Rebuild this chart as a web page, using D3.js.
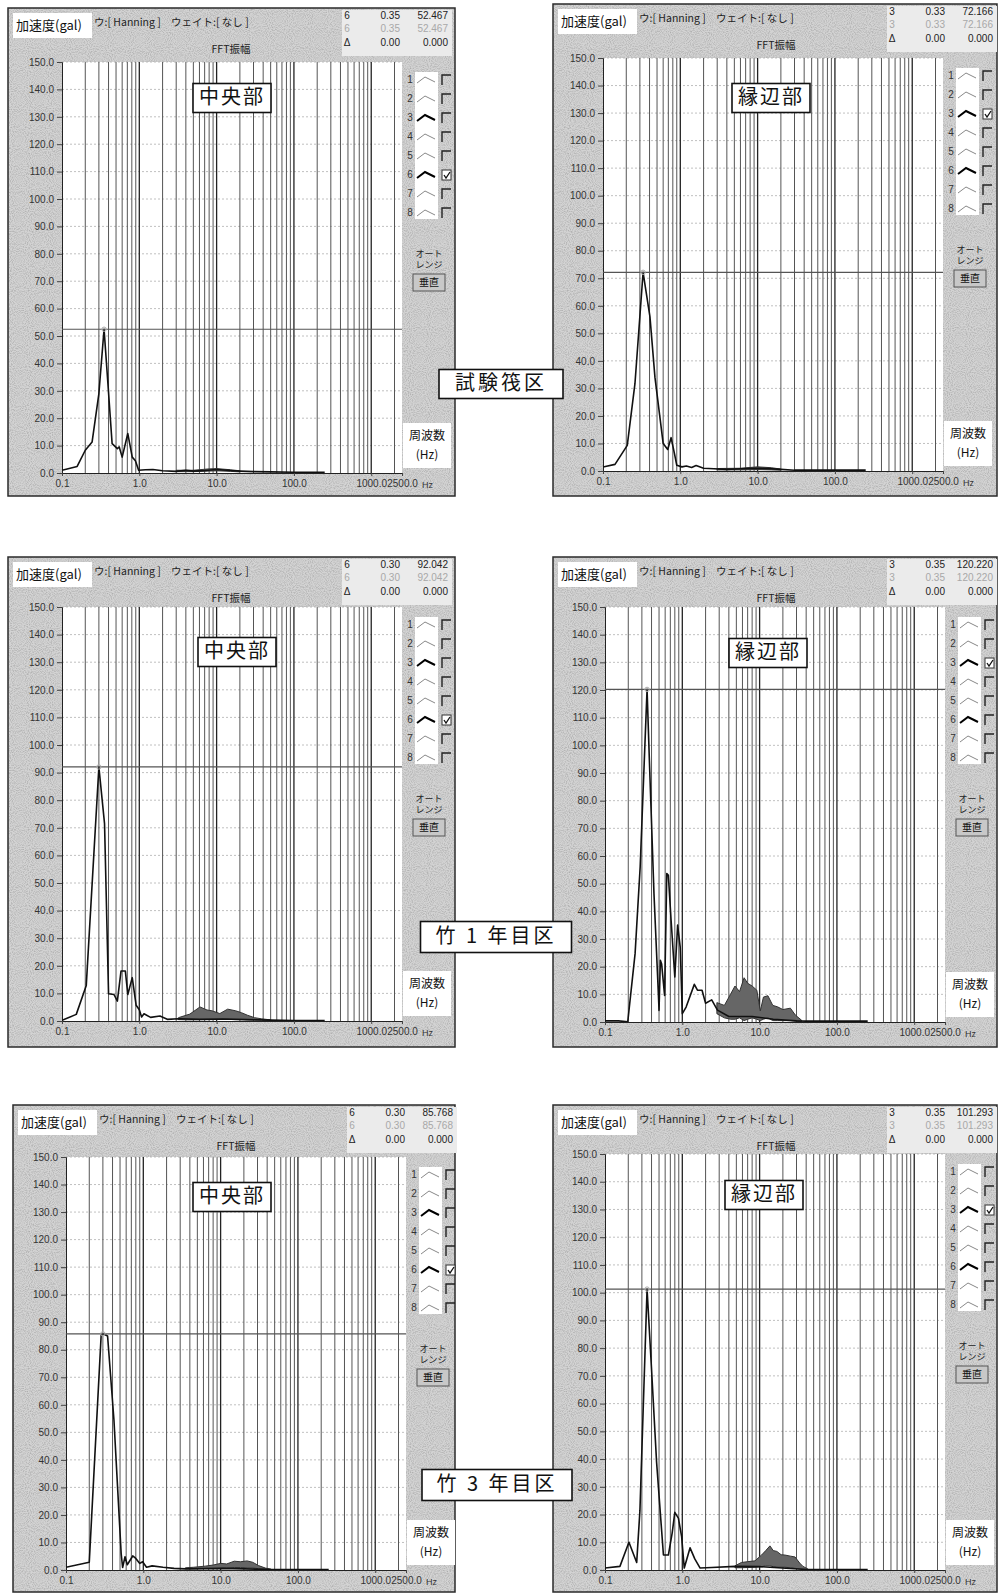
<!DOCTYPE html>
<html>
<head>
<meta charset="utf-8">
<script src="https://cdn.jsdelivr.net/npm/d3@7"></script>
<style>
  body { margin: 0; background: #fff; }
  svg { display: block; }
</style>
</head>
<body>
<svg id="chart" width="998" height="1594"></svg>
<script>
// ---- axis ticks and labels ----
const freqTickValues = [0.1, 1, 10, 100, 1000, 2500];
const freqTickLabels = ["0.1", "1.0", "10.0", "100.0", "1000.0", "2500.0"];
const ampTickValues = [0, 10, 20, 30, 40, 50, 60, 70, 80, 90, 100, 110, 120, 130, 140, 150];
const legendChannels = [1, 2, 3, 4, 5, 6, 7, 8];

// ---- panel text ----
const panelTitles = ["中央部", "縁辺部", "中央部", "縁辺部", "中央部", "縁辺部"];
const sectionNames = ["試験筏区", "竹 1 年目区", "竹 3 年目区"];
const cursorChannel = [6, 3, 6, 3, 6, 3];
const peakFreq = [0.35, 0.33, 0.30, 0.35, 0.30, 0.35];
const peakAmp = [52.467, 72.166, 92.042, 120.220, 85.768, 101.293];

// ---- FFT amplitude spectra [Hz, gal] ----
const specRaftCenter = [[0.1,1.0],[0.157,2.4],[0.2,8.3],[0.245,11.3],[0.3,29],[0.35,52.467],[0.39,33.8],[0.445,10.7],[0.52,8.9],[0.55,9.5],[0.6,5.8],[0.71,14.4],[0.81,5.8],[0.89,4.5],[0.98,1.0],[1.2,1.2],[1.5,1.3],[2,0.8],[3,0.6],[4,1.0],[5,0.7],[7,0.9],[10,1.3],[15,0.9],[20,0.7],[30,0.5],[50,0.4],[100,0.3],[250,0.3]];
const specRaftEdge = [[0.1,1.45],[0.143,2.4],[0.206,9.3],[0.259,31.7],[0.33,72.166],[0.405,56],[0.47,34],[0.6,10],[0.687,7.8],[0.76,12.1],[0.84,6.3],[0.9,2.1],[1.05,1.5],[1.2,1.8],[1.4,1.3],[1.6,2.0],[2.0,1.0],[2.7,0.8],[4,0.6],[6,0.8],[10,1.0],[15,0.8],[20,0.6],[30,0.3],[50,0.3],[250,0.3]];
const specYear1Center = [[0.1,0.25],[0.153,2.4],[0.206,12.9],[0.30,92.042],[0.355,71.5],[0.4,9.9],[0.47,9.6],[0.52,7.2],[0.58,18.1],[0.66,18.1],[0.71,9.6],[0.81,15.7],[0.91,5.7],[1.0,4.1],[1.07,1.45],[1.15,2.6],[1.4,1.3],[1.85,1.8],[2.3,0.6],[3.2,0.8],[6,0.6],[12,0.7],[25,0.5],[50,0.3],[100,0.2],[250,0.2]];
const specYear1Edge = [[0.1,0.4],[0.149,0.4],[0.197,0.1],[0.245,24.7],[0.285,56],[0.35,120.22],[0.375,94.6],[0.43,46.4],[0.49,10.3],[0.5,4.2],[0.52,22.3],[0.54,21],[0.59,9.6],[0.63,53.7],[0.66,53],[0.716,36.8],[0.8,16.3],[0.87,35],[0.94,27],[1.0,3],[1.12,5.4],[1.43,13.6],[1.57,11.5],[1.8,11.5],[2.0,6.8],[2.4,8.0],[2.85,4.3],[4,2],[8,2],[15,1],[30,0.4],[40,0.3],[250,0.3]];
const specYear3Center = [[0.1,1.0],[0.2,2.8],[0.285,85.3],[0.30,85.768],[0.345,85.0],[0.417,54.5],[0.517,6],[0.54,0.9],[0.58,4.8],[0.62,1.9],[0.73,5.1],[0.8,4.2],[0.9,2.4],[0.98,3.0],[1.1,1.0],[1.3,1.5],[1.8,1.0],[2.5,0.6],[3.5,0.4],[10,0.6],[45,0.2],[100,0.2],[250,0.2]];
const specYear3Edge = [[0.1,0.7],[0.156,1.3],[0.204,10],[0.257,2.7],[0.283,21.4],[0.35,101.293],[0.4,72.3],[0.465,38.8],[0.57,5.4],[0.66,5.4],[0.74,13.4],[0.8,20.8],[0.89,18.7],[0.98,12],[1.06,0.7],[1.26,8],[1.45,4],[1.7,0.7],[2.4,0.9],[4.8,1.3],[10,1.2],[40,0.2],[100,0.2],[250,0.2]];

// ---- dense high-frequency scatter, as [Hz, low, high] envelopes ----
const bandRaftCenter = [[3,0.5,1.0],[5,0.5,1.0],[8,0.7,1.5],[10,0.8,1.6],[15,0.6,1.2],[20,0.4,0.8]];
const bandRaftEdge = [[3,0.4,0.9],[6,0.4,1.0],[10,0.5,1.5],[15,0.4,1.2],[20,0.3,0.7]];
const bandYear1Center = [[3.2,0.5,1.2],[4.5,0.4,2.5],[6.1,0.5,5.1],[7.5,0.5,4],[8.7,0.5,3.7],[11,0.6,2.7],[13.9,0.6,4.3],[17.6,0.5,3.7],[21,0.5,3],[25,0.4,2.1],[31,0.3,1.2],[38,0.3,0.8],[50,0.2,0.4]];
const bandYear1Edge = [[2.8,3,7],[3.5,1.5,6],[4.2,1,10],[4.8,1,13],[5.5,1.5,11],[6.3,0.5,16],[7,1,14],[8,1.5,13],[9.2,1,11.5],[10.2,0.5,4],[11.2,1,9],[12.8,1.5,9.5],[14.8,0.5,6],[17,0.5,5.5],[20,0.5,4.5],[25,0.5,5],[29,0.3,2.5],[35,0.2,0.6]];
const bandYear3Center = [[3.5,0.4,0.8],[4.5,0.4,1.0],[6.3,0.5,1.4],[8,0.5,1.8],[10,0.6,2.4],[12,0.8,2.2],[15,0.9,3.2],[18,0.9,3.0],[22,0.8,3.3],[26,0.7,2.8],[31,0.5,1.6],[38,0.3,0.7],[45,0.2,0.3]];
const bandYear3Edge = [[4.8,0.8,1.5],[5.8,0.8,2.7],[7,0.9,3],[8.7,1,3.3],[10.6,1.2,5.4],[12,1.5,7],[13.6,1.5,8.7],[15,1.2,7],[16.7,1,6.7],[19,1,5.5],[21.2,1,5.4],[25,0.8,5],[28.7,0.6,4.7],[33,0.4,2.5],[36.4,0.3,1.3],[42,0.2,0.4]];

const spectra = [specRaftCenter, specRaftEdge, specYear1Center, specYear1Edge, specYear3Center, specYear3Edge];
const bands = [bandRaftCenter, bandRaftEdge, bandYear1Center, bandYear1Edge, bandYear3Center, bandYear3Edge];

// ---- layout (pixels) ----
const PLOT_W = 340;
const layout = [
  { bx: 8,   by: 8,    bw: 447, bh: 488, L: 62,  T: 62,   B: 473,  tx: 232, ty: 98 },
  { bx: 553, by: 4,    bw: 444, bh: 492, L: 603, T: 58,   B: 471,  tx: 771, ty: 98 },
  { bx: 8,   by: 557,  bw: 447, bh: 490, L: 62,  T: 607,  B: 1021, tx: 237, ty: 652 },
  { bx: 553, by: 557,  bw: 444, bh: 490, L: 605, T: 607,  B: 1022, tx: 768, ty: 653 },
  { bx: 13,  by: 1105, bw: 442, bh: 487, L: 66,  T: 1157, B: 1570, tx: 232, ty: 1197 },
  { bx: 553, by: 1105, bw: 444, bh: 487, L: 605, T: 1154, B: 1570, tx: 764, ty: 1195 }
];
const sectionBoxes = [
  { cx: 501, cy: 384, w: 124, h: 29 },
  { cx: 496, cy: 937, w: 151, h: 31 },
  { cx: 497, cy: 1485, w: 150, h: 31 }
];

const JP = "'Noto Sans CJK JP', 'Noto Sans', sans-serif";
const NUM = "'Liberation Sans', Arial, sans-serif";

const svg = d3.select("#chart");
const defs = svg.append("defs");

// fine grain for the grey window background
const grain = defs.append("filter").attr("id", "grain")
  .attr("x", 0).attr("y", 0).attr("width", 1).attr("height", 1);
grain.append("feTurbulence").attr("type", "fractalNoise")
  .attr("baseFrequency", 0.95).attr("numOctaves", 1).attr("seed", 7);
grain.append("feColorMatrix").attr("type", "matrix")
  .attr("values", "0 0 0 0 0.4  0 0 0 0 0.4  0 0 0 0 0.4  2.2 0 0 0 -0.9");

// minor + major log grid frequencies
const gridFreqs = [];
[0.1, 1, 10, 100, 1000].forEach(d => {
  for (let m = 1; m <= 9; m++) { const f = d * m; if (f <= 2500) gridFreqs.push(f); }
});

layout.forEach((p, i) => {
  const g = svg.append("g");
  const x = d3.scaleLog().domain([0.1, 2500]).range([p.L, p.L + PLOT_W]);
  const y = d3.scaleLinear().domain([0, 150]).range([p.B, p.T]);

  // window frame
  g.append("rect").attr("x", p.bx).attr("y", p.by).attr("width", p.bw).attr("height", p.bh)
    .attr("fill", "#d3d3d3");
  g.append("rect").attr("x", p.bx).attr("y", p.by).attr("width", p.bw).attr("height", p.bh)
    .attr("fill", "#fff").attr("filter", "url(#grain)");
  g.append("rect").attr("x", p.bx).attr("y", p.by).attr("width", p.bw).attr("height", p.bh)
    .attr("fill", "none").attr("stroke", "#2a2a2a").attr("stroke-width", 1.5);

  // header: unit label
  g.append("rect").attr("x", p.bx + 5).attr("y", p.by + 5).attr("width", 79).attr("height", 25).attr("fill", "#fff");
  g.append("text").attr("x", p.bx + 8).attr("y", p.by + 18).attr("dominant-baseline", "middle")
    .attr("font-family", JP).attr("font-size", 13).attr("fill", "#111").text("加速度(gal)");
  g.append("text").attr("x", p.bx + 86).attr("y", p.by + 15).attr("dominant-baseline", "middle")
    .attr("font-family", JP).attr("font-size", 10.5).attr("fill", "#222").text("ウ:[ Hanning ]");
  g.append("text").attr("x", p.bx + 163).attr("y", p.by + 15).attr("dominant-baseline", "middle")
    .attr("font-family", JP).attr("font-size", 10.5).attr("fill", "#222").text("ウェイト:[ なし ]");
  g.append("text").attr("x", p.bx + 223).attr("y", p.by + 42).attr("dominant-baseline", "middle")
    .attr("text-anchor", "middle").attr("font-family", JP).attr("font-size", 10.5).attr("fill", "#222").text("FFT振幅");

  // cursor readout
  g.append("rect").attr("x", p.bx + 334).attr("y", p.by + 2).attr("width", 110).attr("height", 46).attr("fill", "#ebebeb");
  const rows = [
    [String(cursorChannel[i]), peakFreq[i].toFixed(2), peakAmp[i].toFixed(3), "#222"],
    [String(cursorChannel[i]), peakFreq[i].toFixed(2), peakAmp[i].toFixed(3), "#a8a8a8"],
    ["Δ", "0.00", "0.000", "#222"]
  ];
  rows.forEach((r, k) => {
    const cy = p.by + 8 + k * 13.5;
    const t = (tx, anchor, s) => g.append("text").attr("x", tx).attr("y", cy)
      .attr("dominant-baseline", "middle").attr("text-anchor", anchor)
      .attr("font-family", NUM).attr("font-size", 10).attr("fill", r[3]).text(s);
    t(p.bx + 339, "middle", r[0]);
    t(p.bx + 392, "end", r[1]);
    t(p.bx + 440, "end", r[2]);
  });

  // plot area
  g.append("rect").attr("x", p.L).attr("y", p.T).attr("width", PLOT_W).attr("height", p.B - p.T).attr("fill", "#fff");

  // horizontal dotted grid
  g.append("g").selectAll("line").data(ampTickValues.filter(v => v > 0)).join("line")
    .attr("x1", p.L).attr("x2", p.L + PLOT_W).attr("y1", d => y(d)).attr("y2", d => y(d))
    .attr("stroke", "#b0b0b0").attr("stroke-width", 0.8).attr("stroke-dasharray", "2,2");

  // vertical log grid
  const major = d => [1, 10, 100, 1000].includes(d);
  g.append("g").selectAll("line").data(gridFreqs.filter(f => f > 0.1)).join("line")
    .attr("x1", d => x(d)).attr("x2", d => x(d)).attr("y1", p.T).attr("y2", p.B)
    .attr("stroke", d => major(d) ? "#222" : "#555")
    .attr("stroke-width", d => major(d) ? 1.3 : 1);

  // axes
  const ya = g.append("g").attr("transform", `translate(${p.L},0)`)
    .call(d3.axisLeft(y).tickValues(ampTickValues).tickFormat(d => d.toFixed(1)).tickSize(5).tickPadding(3));
  ya.select(".domain").attr("stroke", "#222");
  ya.selectAll(".tick line").attr("stroke", "#444");
  ya.selectAll("text").attr("font-family", NUM).attr("font-size", 10).attr("fill", "#333");

  const xa = g.append("g").attr("transform", `translate(0,${p.B})`)
    .call(d3.axisBottom(x).tickValues(freqTickValues).tickFormat((d, k) => freqTickLabels[k]).tickSize(3).tickPadding(4));
  xa.select(".domain").attr("stroke", "#222");
  xa.selectAll(".tick line").attr("stroke", "#444");
  xa.selectAll("text").attr("font-family", NUM).attr("font-size", 10).attr("fill", "#333");
  g.append("text").attr("x", p.L + 360).attr("y", p.B + 15).attr("font-family", NUM)
    .attr("font-size", 9).attr("fill", "#333").text("Hz");

  // spectrum
  const clipId = "clip" + i;
  defs.append("clipPath").attr("id", clipId).append("rect")
    .attr("x", p.L).attr("y", p.T).attr("width", PLOT_W).attr("height", p.B - p.T);
  const plot = g.append("g").attr("clip-path", `url(#${clipId})`);

  plot.append("path").datum(bands[i])
    .attr("d", d3.area().x(d => x(d[0])).y0(d => y(d[1])).y1(d => y(d[2])))
    .attr("fill", "#666").attr("stroke", "#333").attr("stroke-width", 1);
  plot.append("path").datum(spectra[i])
    .attr("d", d3.line().x(d => x(d[0])).y(d => y(d[1])))
    .attr("fill", "none").attr("stroke", "#111").attr("stroke-width", 1.6).attr("stroke-linejoin", "round");

  // cursor line at the peak
  plot.append("line").attr("x1", p.L).attr("x2", p.L + PLOT_W)
    .attr("y1", y(peakAmp[i])).attr("y2", y(peakAmp[i]))
    .attr("stroke", "#555").attr("stroke-width", 1.2);
  plot.append("circle").attr("cx", x(peakFreq[i])).attr("cy", y(peakAmp[i])).attr("r", 2.2)
    .attr("fill", "none").attr("stroke", "#aaa").attr("stroke-width", 1);

  // channel legend
  g.append("rect").attr("x", p.L + 353).attr("y", p.T + 10).attr("width", 23).attr("height", 147).attr("fill", "#fff");
  legendChannels.forEach((ch, k) => {
    const cy = p.T + 18 + k * 19;
    const bold = ch === 3 || ch === 6;
    g.append("text").attr("x", p.L + 348).attr("y", cy).attr("dominant-baseline", "middle")
      .attr("text-anchor", "middle").attr("font-family", NUM).attr("font-size", 10).attr("fill", "#333").text(ch);
    g.append("path").attr("d", `M${p.L + 355},${cy + 3} L${p.L + 363},${cy - 3} L${p.L + 373},${cy + 2}`)
      .attr("fill", "none").attr("stroke", bold ? "#000" : "#888").attr("stroke-width", bold ? 2 : 1);
    const cx0 = p.L + 380, cy0 = cy - 5;
    if (ch === cursorChannel[i]) {
      g.append("rect").attr("x", cx0).attr("y", cy0).attr("width", 9).attr("height", 10)
        .attr("fill", "#fff").attr("stroke", "#333").attr("stroke-width", 1);
      g.append("path").attr("d", `M${cx0 + 2},${cy0 + 5} L${cx0 + 4},${cy0 + 8} L${cx0 + 8},${cy0 + 2}`)
        .attr("fill", "none").attr("stroke", "#111").attr("stroke-width", 1.3);
    } else {
      g.append("path").attr("d", `M${cx0},${cy0 + 10} V${cy0} H${cx0 + 9}`)
        .attr("fill", "none").attr("stroke", "#222").attr("stroke-width", 1.4);
    }
  });

  // auto-range button
  g.append("text").attr("x", p.L + 367).attr("y", p.T + 195).attr("text-anchor", "middle")
    .attr("font-family", JP).attr("font-size", 9).attr("fill", "#222").text("オート");
  g.append("text").attr("x", p.L + 367).attr("y", p.T + 206).attr("text-anchor", "middle")
    .attr("font-family", JP).attr("font-size", 9).attr("fill", "#222").text("レンジ");
  g.append("rect").attr("x", p.L + 351).attr("y", p.T + 212).attr("width", 32).attr("height", 17)
    .attr("fill", "#c8c8c8").attr("stroke", "#555").attr("stroke-width", 1);
  g.append("text").attr("x", p.L + 367).attr("y", p.T + 221).attr("text-anchor", "middle")
    .attr("dominant-baseline", "middle").attr("font-family", JP).attr("font-size", 10).attr("fill", "#111").text("垂直");

  // frequency unit label
  g.append("rect").attr("x", p.L + 341).attr("y", p.B - 50).attr("width", 48).attr("height", 45).attr("fill", "#fff");
  g.append("text").attr("x", p.L + 365).attr("y", p.B - 36).attr("text-anchor", "middle")
    .attr("dominant-baseline", "middle").attr("font-family", JP).attr("font-size", 12).attr("fill", "#111").text("周波数");
  g.append("text").attr("x", p.L + 365).attr("y", p.B - 17).attr("text-anchor", "middle")
    .attr("dominant-baseline", "middle").attr("font-family", JP).attr("font-size", 12).attr("fill", "#111").text("(Hz)");

  // position title
  const tw = 78, th = 29;
  g.append("rect").attr("x", p.tx - tw / 2).attr("y", p.ty - th / 2).attr("width", tw).attr("height", th)
    .attr("fill", "#fff").attr("stroke", "#111").attr("stroke-width", 1.6);
  g.append("text").attr("x", p.tx).attr("y", p.ty + 1).attr("text-anchor", "middle").attr("dominant-baseline", "middle")
    .attr("font-family", JP).attr("font-size", 20).attr("letter-spacing", 2).attr("fill", "#111").text(panelTitles[i]);
});

// plot-section labels between the columns
sectionBoxes.forEach((s, k) => {
  svg.append("rect").attr("x", s.cx - s.w / 2).attr("y", s.cy - s.h / 2).attr("width", s.w).attr("height", s.h)
    .attr("fill", "#fff").attr("stroke", "#111").attr("stroke-width", 1.6);
  svg.append("text").attr("x", s.cx).attr("y", s.cy + 1).attr("text-anchor", "middle").attr("dominant-baseline", "middle")
    .attr("font-family", JP).attr("font-size", 20).attr("letter-spacing", 3).attr("fill", "#111").text(sectionNames[k]);
});
</script>
</body>
</html>
